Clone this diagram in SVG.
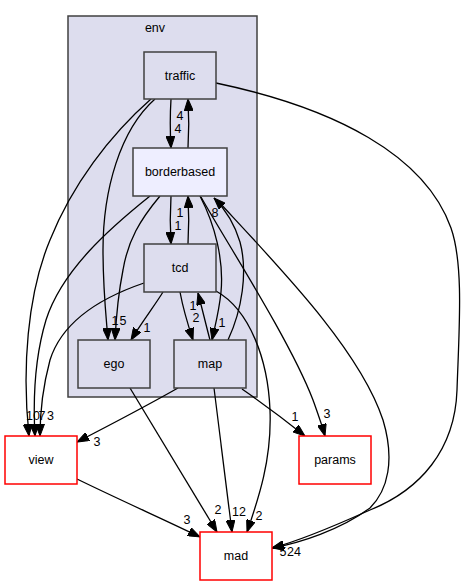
<svg xmlns="http://www.w3.org/2000/svg" width="464" height="585" viewBox="0 0 464 585">
<style>
text{font-family:"Liberation Sans",Arial,sans-serif;font-size:12.5px;fill:#000}
.n text,.c text{text-anchor:middle}
.in rect{fill:#ddddee;stroke:#404040;stroke-width:1.5}
.cur rect{fill:#eeeeff;stroke:#404040;stroke-width:1.5}
.ex rect{fill:#ffffff;stroke:#ff0000;stroke-width:1.5}
.e path{fill:none;stroke:#000;stroke-width:1.3;marker-end:url(#ah)}
.lb text{text-anchor:middle}
</style>
<defs>
<marker id="ah" markerUnits="userSpaceOnUse" markerWidth="12" markerHeight="9" refX="12" refY="4.5" orient="auto" viewBox="0 0 12 9">
<path d="M0,0 L12,4.5 L0,9 z" fill="#000" stroke="#000" stroke-width="1"/>
</marker>
</defs>
<rect width="464" height="585" fill="#fff"/>
<g id="cluster_env" class="c">
<rect x="68" y="16" width="189" height="381" fill="#ddddee" stroke="#404040" stroke-width="1.5"/>
<text x="155" y="32">env</text>
</g>
<g id="edges" class="e">
<path d="M171,99 C170,115 170,130 171,148"/>
<path d="M188,148 C189,132 189,116 188,99"/>
<path d="M171,196 C170,212 170,227 171,244"/>
<path d="M188,244 C189,228 189,213 188,196"/>
<path d="M151,99 C110,135 72,185 50,240 C27,295 22,370 29,436"/>
<path d="M150,196 C110,228 62,270 46,320 C34,360 33,400 35,436"/>
<path d="M144,283 C100,298 62,322 50,360 C42,390 40,415 40,436"/>
<path d="M155,99 C120,130 103,190 103,250 C103,290 106,315 108,340"/>
<path d="M160,196 C140,220 128,240 123,270 C118,295 116,320 115,340"/>
<path d="M163,292 C155,305 142,322 131,340"/>
<path d="M180,292 C183,308 188,325 193,340"/>
<path d="M210,340 C206,325 202,308 198,293"/>
<path d="M200,196 C215,225 224,260 221,292 C219,312 215,326 212,340"/>
<path d="M228,340 C242,310 248,272 240,242 C234,222 224,208 214,198"/>
<path d="M201,197 C225,240 290,340 313,400 C318,414 322,425 325,436"/>
<path d="M218,201 C280,268 360,350 383,420 C395,460 388,490 370,508 C340,530 300,543 272,548"/>
<path d="M216,83 C335,108 425,155 451,228 C464,265 459,330 457,390 C455,450 420,490 370,510 C330,528 295,542 272,548"/>
<path d="M216,291 C250,310 268,360 270,410 C272,460 258,500 247,532"/>
<path d="M77,479 C120,500 165,520 200,537"/>
<path d="M130,388 C160,438 190,487 217,532"/>
<path d="M214,388 C220,437 226,485 232,532"/>
<path d="M178,388 C148,405 110,425 77,442"/>
<path d="M242,389 C265,405 285,420 305,436"/>
</g>
<g id="edge_labels" class="lb">
<text x="180" y="120">4</text>
<text x="178" y="133">4</text>
<text x="180" y="217">1</text>
<text x="178" y="230">1</text>
<text x="33" y="420">10</text>
<text x="42" y="420">7</text>
<text x="50.5" y="420">3</text>
<text x="115" y="325">1</text>
<text x="123" y="325">5</text>
<text x="147" y="332">1</text>
<text x="196" y="322">2</text>
<text x="193" y="310">1</text>
<text x="222" y="327">1</text>
<text x="215" y="217">8</text>
<text x="327" y="418">3</text>
<text x="295" y="421">1</text>
<text x="97" y="446">3</text>
<text x="187" y="524">3</text>
<text x="218" y="514">2</text>
<text x="239" y="516">12</text>
<text x="259" y="520">2</text>
<text x="294" y="556">24</text>
<text x="283" y="556">5</text>
</g>
<g id="traffic" class="n in"><rect x="144" y="52" width="72" height="47"/><text x="180" y="80">traffic</text></g>
<g id="borderbased" class="n cur"><rect x="133" y="148" width="94" height="48"/><text x="180" y="176">borderbased</text></g>
<g id="tcd" class="n in"><rect x="144" y="244" width="72" height="48"/><text x="180" y="272">tcd</text></g>
<g id="ego" class="n in"><rect x="78" y="340" width="72" height="48"/><text x="114" y="368">ego</text></g>
<g id="map" class="n in"><rect x="174" y="340" width="72" height="48"/><text x="210" y="368">map</text></g>
<g id="view" class="n ex"><rect x="5" y="436" width="72" height="48"/><text x="41" y="464">view</text></g>
<g id="params" class="n ex"><rect x="299" y="436" width="72" height="48"/><text x="335" y="464">params</text></g>
<g id="mad" class="n ex"><rect x="200" y="532" width="72" height="48"/><text x="236" y="560">mad</text></g>
</svg>
